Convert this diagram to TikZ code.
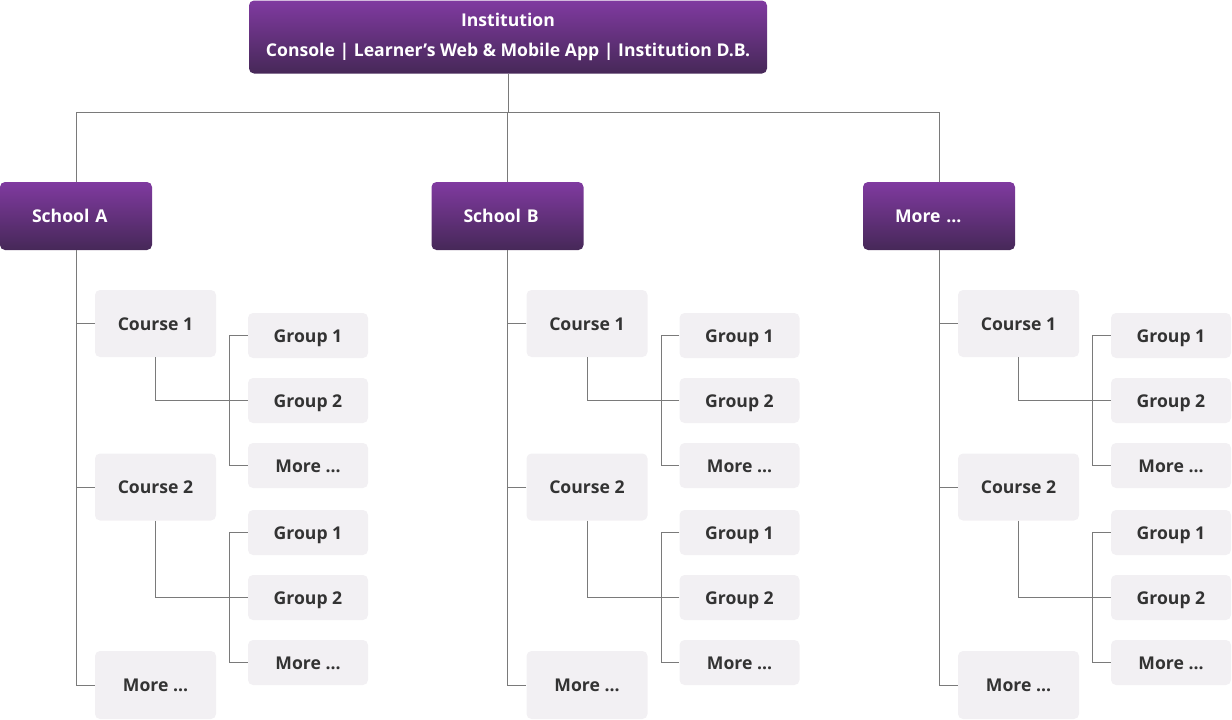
\documentclass[tikz,border=0pt]{standalone}
\usepackage{fontspec}
\setmainfont{Open Sans}
\newcommand\mymore{More ...}
\begin{document}
\begin{tikzpicture}[x=1pt,y=-1pt,
  purplebox/.style={rounded corners=5pt, top color=purpTop, bottom color=purpBot, draw=none,
    text=white, font=\bfseries\fontsize{17.6}{21}\selectfont, inner sep=0pt},
  schoolbox/.style={purplebox, minimum height=68pt, text width=88pt, align=left, inner xsep=32pt,
    text height=13pt, text depth=0pt},
  coursebox/.style={rounded corners=5pt, fill=boxFill, draw=none, text=txtDark,
    font=\bfseries\fontsize{17.6}{21}\selectfont, minimum width=121pt, minimum height=67pt, inner sep=0pt,
    text height=13pt, text depth=0pt},
  groupbox/.style={coursebox, minimum width=120pt, minimum height=45pt},
  conn/.style={draw=lineGray, line width=1pt}
]
\definecolor{purpTop}{RGB}{128,58,160}
\definecolor{purpBot}{RGB}{70,40,88}
\definecolor{boxFill}{RGB}{242,240,243}
\definecolor{txtDark}{RGB}{51,51,51}
\definecolor{lineGray}{RGB}{122,122,122}
\useasboundingbox (0,0) rectangle (1232,720);

\node[purplebox, minimum width=518pt, minimum height=73pt, align=center] (inst) at (508,37)
  {Institution\\[9pt]Console | Learner’s Web \& Mobile App | Institution D.B.};
\coordinate (bus) at (508,112);
\draw[conn] (inst.south) -- (inst.south |- bus);

\foreach \d/\n/\t in {0/A/School A, 431.5/B/School B, 863/C/\mymore}{
  \node[schoolbox] (s\n) at (76+\d,216) {\t};
  \draw[conn] (s\n.north) -- (s\n.north |- bus);
  \node[coursebox] (c1\n) at (155.5+\d,323.5) {Course 1};
  \node[coursebox] (c2\n) at (155.5+\d,487) {Course 2};
  \node[coursebox, minimum height=68pt] (cm\n) at (155.5+\d,685) {\mymore};
  \node[groupbox] (ga\n) at (308+\d,335.5) {Group 1};
  \node[groupbox] (gb\n) at (308+\d,400.5) {Group 2};
  \node[groupbox] (gc\n) at (308+\d,465.5) {\mymore};
  \node[groupbox] (gd\n) at (308+\d,532.5) {Group 1};
  \node[groupbox] (ge\n) at (308+\d,597.5) {Group 2};
  \node[groupbox] (gf\n) at (308+\d,662.5) {\mymore};
  \draw[conn] (s\n.south) |- (cm\n.west);
  \draw[conn] (c1\n.west) -- (c1\n.west -| s\n.south);
  \draw[conn] (c2\n.west) -- (c2\n.west -| s\n.south);
  \draw[conn] (ga\n.west) -- ++(-18,0) |- (gc\n.west);
  \draw[conn] (gb\n.west) -- ++(-18,0);
  \draw[conn] (c1\n.south) |- (gb\n.west);
  \draw[conn] (gd\n.west) -- ++(-18,0) |- (gf\n.west);
  \draw[conn] (ge\n.west) -- ++(-18,0);
  \draw[conn] (c2\n.south) |- (ge\n.west);
}
\draw[conn] (sA.north |- bus) -- (sC.north |- bus);
\end{tikzpicture}
\end{document}
